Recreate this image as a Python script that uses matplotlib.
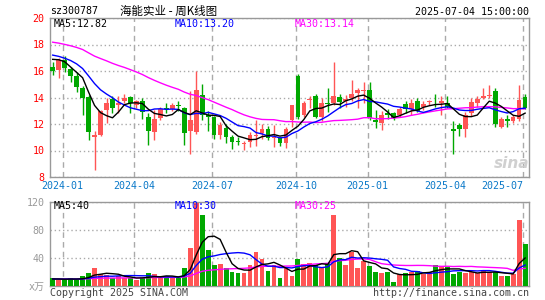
import numpy as np
import pandas as pd
import matplotlib
matplotlib.use("Agg")
import matplotlib.pyplot as plt

# ---------------- data (weekly) ----------------
dates = ["2023-12-22","2023-12-29","2024-01-05","2024-01-12","2024-01-19","2024-01-26",
         "2024-02-02","2024-02-08","2024-02-23","2024-03-01","2024-03-08","2024-03-15",
         "2024-03-22","2024-03-29","2024-04-03","2024-04-12","2024-04-19","2024-04-26",
         "2024-04-30","2024-05-10","2024-05-17","2024-05-24","2024-05-31","2024-06-07",
         "2024-06-14","2024-06-21","2024-06-28","2024-07-05","2024-07-12","2024-07-19",
         "2024-07-26","2024-08-02","2024-08-09","2024-08-16","2024-08-23","2024-08-30",
         "2024-09-06","2024-09-13","2024-09-20","2024-09-27","2024-09-30","2024-10-11",
         "2024-10-18","2024-10-25","2024-11-01","2024-11-08","2024-11-15","2024-11-22",
         "2024-11-29","2024-12-06","2024-12-13","2024-12-20","2024-12-27","2025-01-03",
         "2025-01-10","2025-01-17","2025-01-24","2025-01-27","2025-02-07","2025-02-14",
         "2025-02-21","2025-02-28","2025-03-07","2025-03-14","2025-03-21","2025-03-28",
         "2025-04-03","2025-04-11","2025-04-18","2025-04-25","2025-04-30","2025-05-09",
         "2025-05-16","2025-05-23","2025-05-30","2025-06-06","2025-06-13","2025-06-20",
         "2025-06-27","2025-07-04"]

opens = [16.3,16.05,16.85,16.15,15.65,14.75,14.05,11.05,11.15,13.05,13.92,13.4,13.75,14.0,
         13.45,13.75,12.55,11.42,12.43,13.22,13.14,13.42,13.2,11.5,11.4,14.2,12.7,12.5,11.15,
         11.7,11.05,10.68,10.5,10.62,11.1,11.3,11.65,10.95,10.95,10.6,12.3,15.65,12.65,13.8,
         14.15,12.5,13.6,13.55,14.05,13.7,13.95,14.35,14.5,14.6,12.3,12.05,12.8,12.8,12.7,
         13.5,13.15,13.7,13.3,13.65,13.6,13.55,13.55,11.62,11.9,11.65,12.8,13.6,14.0,14.1,
         14.5,11.8,12.4,12.2,12.4,14.05]
highs = [16.7,16.95,17.15,16.3,15.9,14.85,14.2,11.5,13.05,13.95,14.15,14.1,14.25,14.15,
         13.8,13.95,12.8,13.05,13.3,13.55,13.55,13.75,13.3,14.5,16.0,15.05,12.95,12.6,12.15,
         12.0,11.2,11.0,10.7,11.4,12.3,12.0,11.85,11.95,11.05,11.8,13.45,15.8,13.75,14.15,
         14.25,14.0,14.7,16.7,14.25,14.2,15.35,14.75,15.2,15.2,13.05,13.0,13.15,12.9,13.25,
         13.7,13.9,14.0,13.75,13.8,14.25,14.1,14.1,12.25,12.1,12.9,13.95,14.1,14.75,14.95,
         14.75,12.5,12.7,12.7,14.95,14.25]
lows = [15.7,15.45,15.95,15.2,14.42,12.7,10.8,8.5,11.1,12.1,12.8,12.85,13.6,12.8,
        13.2,12.35,10.4,10.8,12.3,12.8,13.0,13.0,10.45,9.75,11.25,12.3,11.45,10.85,10.9,
        10.55,10.15,10.4,10.05,10.3,10.35,10.9,10.8,10.3,10.35,10.2,11.8,12.4,12.5,13.2,
        12.45,12.2,12.9,13.45,13.2,13.3,13.7,13.2,13.55,12.3,11.7,11.55,12.4,12.3,12.55,
        12.8,12.7,12.9,13.05,13.45,13.3,12.65,13.2,9.7,11.1,11.05,12.6,13.3,13.9,13.95,
        11.8,11.7,11.8,12.1,12.25,13.1]
closes = [16.0,16.85,16.2,15.65,14.77,14.0,11.42,11.17,12.95,13.6,13.2,13.6,13.95,13.55,
          13.7,12.9,11.47,12.38,13.14,13.15,13.44,13.35,11.3,12.3,14.6,12.65,12.5,11.2,11.9,
          11.05,10.65,10.62,10.55,11.2,11.2,11.65,10.98,11.0,10.6,11.6,13.4,12.55,13.55,13.85,
          12.5,13.55,13.5,14.15,13.65,13.9,14.25,14.55,14.55,12.45,12.15,12.7,12.7,12.45,13.1,
          13.1,13.6,13.0,13.5,13.7,13.55,13.7,13.3,11.47,11.65,12.7,13.65,13.9,14.15,14.2,
          12.0,12.4,12.2,12.5,13.8,13.2]
volumes = [12,9,8.5,11,9,14,18,26,17,16,11,14,12,12,8,12,18,17,11,14,11,12,26,54,118,
           102,52,30,31,26,20,18,19,30,49,38,22,30,11,27,14,38,31,33,30,27,33,101,40,30,
           48,26,36,28,20,19,20,6,17,18,20,22,17,20,30,28,27,17,20,18,20,18,22,20,20,
           15,14,17,94,60]

# weeks before the visible window (only feed the moving averages, estimated from MA lines)
prior_closes = [18.9,19.1,18.8,18.5,18.7,19.0,18.6,18.4,18.8,18.9,18.5,18.3,18.6,18.9,18.7,
                18.4,18.6,18.8,18.5,18.2,17.8,17.6,17.4,17.3,17.5,17.0,16.95,17.65,16.8]
prior_volumes = [10,9,11,10,9,10,12,9,10,11,10,9,10,11,9,10,10,12,9,10,11,9,10,10,11,9,10,10,9]

month_ticks = ["2024-01","2024-04","2024-07","2024-10","2025-01","2025-04","2025-07"]
price_ticks = [8,10,12,14,16,18,20]
vol_ticks = [0,40,80,120]

# ---------------- derived ----------------
n = len(closes)
x = np.arange(n)
o = np.array(opens); h = np.array(highs); l = np.array(lows); c = np.array(closes)
v = np.array(volumes, dtype=float)

def ma(prior, vals, k):
    s = pd.Series(list(prior) + list(vals), dtype=float)
    return s.rolling(k).mean().to_numpy()[len(prior):]

pma5, pma10, pma30 = ma(prior_closes, c, 5), ma(prior_closes, c, 10), ma(prior_closes, c, 30)
vma5, vma10, vma30 = ma(prior_volumes, v, 5), ma(prior_volumes, v, 10), ma(prior_volumes, v, 30)

tick_pos = []
for m in month_ticks:
    idx = next(i for i, d in enumerate(dates) if d.startswith(m))
    tick_pos.append(idx - 0.35)

RED = "#ff5555"
GREEN = "#00a800"
up = c >= o
cols = np.where(up, RED, GREEN)

MONO = "DejaVu Sans Mono"
FS = 7.2

W, H = 545, 300
fig = plt.figure(figsize=(W / 100, H / 100), dpi=100)
fig.patch.set_facecolor("white")

def box(x0, y0, x1, y1):
    return [x0 / W, 1 - y1 / H, (x1 - x0) / W, (y1 - y0) / H]

axp = fig.add_axes(box(50, 18, 529, 177))
axv = fig.add_axes(box(50, 202, 529, 286))

for ax in (axp, axv):
    ax.set_xlim(-0.45, 79.65)
    for s in ax.spines.values():
        s.set_color("#999999")
        s.set_linewidth(1.0)
    ax.set_axisbelow(True)
    ax.set_xticks(tick_pos)
    ax.xaxis.grid(True, color="#aaaaaa", linestyle=(0, (4, 3)), linewidth=1.0)
    ax.yaxis.grid(True, color="#aaaaaa", linestyle=(0, (1, 2)), linewidth=1.0)
    ax.tick_params(length=0)

# ---- price panel ----
axp.set_ylim(8, 20)
axp.set_yticks(price_ticks)
axp.set_yticklabels([str(t) for t in price_ticks], color="red", family=MONO, fontsize=FS)
axp.tick_params(axis="y", pad=4)
xl = axp.set_xticklabels(month_ticks, color="#0a78c8", family=MONO, fontsize=FS)
xl[-1].set_horizontalalignment("right")
axp.tick_params(axis="x", pad=3)

axp.vlines(x, l, h, colors=cols, linewidth=1.0, zorder=2)
body_h = np.maximum(np.abs(c - o), 0.07)
axp.bar(x, body_h, bottom=np.minimum(o, c), width=0.78, color=cols, linewidth=0, zorder=3)

axp.plot(x, pma30, color="#ff00ff", linewidth=1.0, zorder=4)
axp.plot(x, pma10, color="#0000ff", linewidth=1.0, zorder=4)
axp.plot(x, pma5, color="black", linewidth=1.0, zorder=4)

axp.text(0.008, 0.962, f"MA5:{pma5[-1]:.2f}", transform=axp.transAxes, color="black",
         family=MONO, fontsize=FS, va="center", ha="left")
axp.text(0.261, 0.962, f"MA10:{pma10[-1]:.2f}", transform=axp.transAxes, color="#0000ff",
         family=MONO, fontsize=FS, va="center", ha="left")
axp.text(0.5115, 0.962, f"MA30:{pma30[-1]:.2f}", transform=axp.transAxes, color="#ff00ff",
         family=MONO, fontsize=FS, va="center", ha="left")

# sina watermark
fig.text(512 / W, 1 - 164 / H, "sina", color="#d0d0d0", fontsize=11, fontweight="bold",
         style="italic", ha="center", va="center", family="DejaVu Sans")

# ---- volume panel ----
axv.set_ylim(0, 120)
axv.set_yticks(vol_ticks)
axv.set_yticklabels(["x万"] + [str(t) for t in vol_ticks[1:]], color="#999999",
                    family=[MONO, "Noto Sans CJK SC"], fontsize=FS)
axv.tick_params(axis="y", pad=4)
axv.set_xticklabels([])
axv.bar(x, v, width=0.8, color=cols, linewidth=0, zorder=3)
axv.plot(x, vma30, color="#ff00ff", linewidth=1.0, zorder=4)
axv.plot(x, vma10, color="#0000ff", linewidth=1.0, zorder=4)
axv.plot(x, vma5, color="black", linewidth=1.0, zorder=4)

axv.text(0.008, 0.952, f"MA5:{vma5[-1]:.0f}", transform=axv.transAxes, color="black",
         family=MONO, fontsize=FS, va="center", ha="left")
axv.text(0.261, 0.952, f"MA10:{vma10[-1]:.0f}", transform=axv.transAxes, color="#0000ff",
         family=MONO, fontsize=FS, va="center", ha="left")
axv.text(0.5115, 0.952, f"MA30:{vma30[-1]:.0f}", transform=axv.transAxes, color="#ff00ff",
         family=MONO, fontsize=FS, va="center", ha="left")

# ---- header / footer ----
fig.text(50 / W, 1 - 11 / H, "sz300787", family=MONO, fontsize=FS, color="black",
         ha="left", va="center")
fig.text(120 / W, 1 - 11 / H, "海能实业 - 周K线图", family=["Noto Sans CJK SC", "DejaVu Sans"],
         fontsize=8.3, color="black", ha="left", va="center")
fig.text(529 / W, 1 - 12 / H, "2025-07-04 15:00:00", family=MONO, fontsize=FS, color="black",
         ha="right", va="center")
fig.text(50 / W, 1 - 293 / H, "Copyright 2025 SINA.COM", family=MONO, fontsize=FS,
         color="#444444", ha="left", va="center")
fig.text(529 / W, 1 - 293 / H, "http://finance.sina.com.cn", family=MONO, fontsize=FS,
         color="#444444", ha="right", va="center")

fig.savefig("out.png", dpi=100, facecolor="white")
